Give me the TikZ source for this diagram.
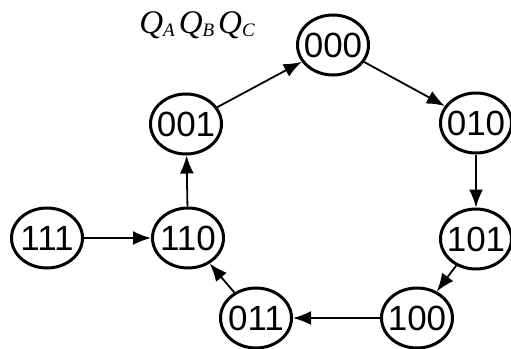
\documentclass[tikz,border=0pt]{standalone}
\usepackage{fontspec}
\setmainfont{Liberation Serif}
\newfontfamily\statefont{Liberation Sans}
\usetikzlibrary{arrows.meta,positioning,shapes.geometric}
\newcommand{\qsub}[1]{\textit{Q}\raisebox{-0.1em}{\fontsize{19}{19}\selectfont\itshape #1}}
\tikzset{
  stateoval/.style={ellipse,draw=black,line width=3pt,fill=white,minimum width=71pt,minimum height=60pt,inner xsep=-12pt,inner ysep=0pt,font=\statefont\fontsize{35}{35}\selectfont},
  trans/.style={-{Latex[length=18pt,width=14pt]},line width=1.8pt,draw=black}
}
\begin{document}
\begin{tikzpicture}[x=1pt,y=-1pt]
  \useasboundingbox (0,0) rectangle (511,348);
  \node[font=\fontsize{33}{33}\selectfont] (lbl) at (197,25) {\qsub{A}\hspace{4pt}\qsub{B}\hspace{4pt}\qsub{C}};
  \node[stateoval] (s000) at (333,45) {000};
  \node[stateoval] (s010) at (476,123) {010};
  \node[stateoval] (s101) at (476,239) {101};
  \node[stateoval] (s100) at (417,318) {100};
  \node[stateoval] (s011) at (256,318) {011};
  \node[stateoval] (s110) at (188,238) {110};
  \node[stateoval] (s001) at (186,124) {001};
  \node[stateoval, left=67pt of s110] (s111) {111};
  \draw[trans] (s001) -- (s000);
  \draw[trans] (s000) -- (s010);
  \draw[trans] (s010) -- (s101);
  \draw[trans] (s101) -- (s100);
  \draw[trans] (s100) -- (s011);
  \draw[trans] (s011) -- (s110);
  \draw[trans] (s110) -- (s001);
  \draw[trans] (s111) -- (s110);
\end{tikzpicture}
\end{document}
